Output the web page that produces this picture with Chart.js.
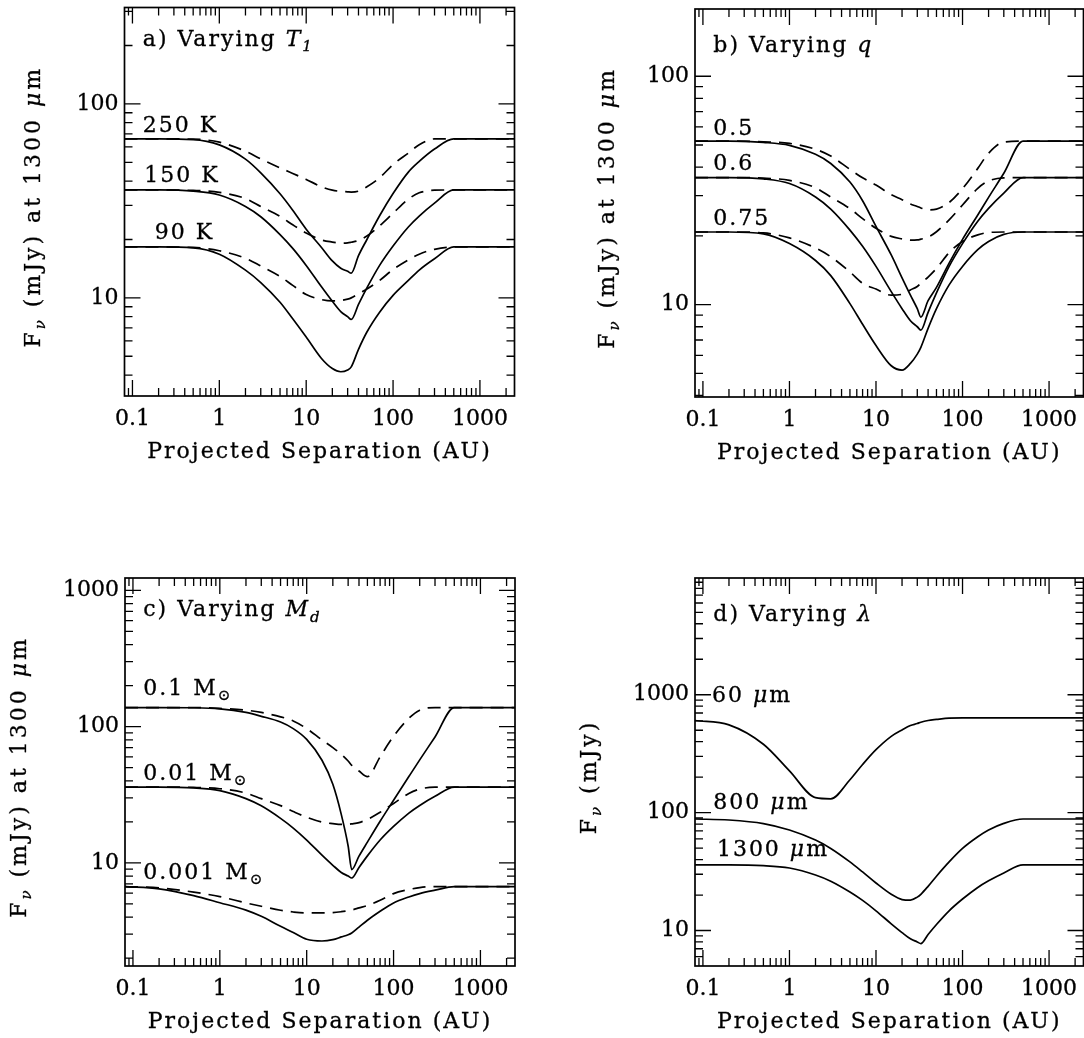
<!DOCTYPE html>
<html>
<head>
<meta charset="utf-8">
<title>Flux versus projected separation</title>
<script src="https://cdn.jsdelivr.net/npm/chart.js@4.4.1/dist/chart.umd.min.js"></script>
<style>
  html, body { margin: 0; padding: 0; background: #fff; }
  #page { position: relative; width: 1084px; height: 1038px; overflow: hidden; }
  .panel { position: absolute; width: 542px; height: 519px; }
</style>
</head>
<body>
<div id="page">
  <div class="panel" style="left:0;top:0"><canvas id="panelA"></canvas></div>
  <div class="panel" style="left:542px;top:0"><canvas id="panelB"></canvas></div>
  <div class="panel" style="left:0;top:519px"><canvas id="panelC"></canvas></div>
  <div class="panel" style="left:542px;top:519px"><canvas id="panelD"></canvas></div>
</div>
<script>
// projected separation (AU) at which every curve is sampled
const sepAU = [0.081, 0.2, 0.5, 1, 2, 3, 5, 7, 10, 15, 20, 25, 30, 33, 40, 50, 70, 100, 150, 200, 300, 500, 2500];

// reference model, repeated in every panel (150 K / 0.6 / 0.01 Msun / 1300 um)
const fiducialSolid  = [36, 36, 35.5, 33.9, 29.6, 26.2, 21.2, 18.0, 14.7, 11.4, 9.6, 8.5, 8.0, 7.74, 9.25, 11.25, 14.7, 18.5, 23.2, 26.4, 30.8, 36, 36];
const fiducialDashed = [36, 36, 35.8, 35.0, 32.5, 29.6, 26.3, 23.8, 21.6, 19.9, 19.4, 19.15, 19.2, 19.35, 19.75, 20.85, 23.5, 27.3, 32.3, 34.8, 35.9, 36, 36];

// a) varying T1
const t250Solid  = [66, 66, 65.5, 61.5, 51.9, 44.1, 34.4, 28.3, 22.6, 18.2, 15.5, 14.2, 13.7, 13.4, 16.5, 20.0, 26.5, 34.5, 44.5, 50.5, 58.5, 66, 66];
const t250Dashed = [66, 66, 65.8, 63.5, 57.0, 52.0, 46.8, 43.8, 40.8, 37.4, 35.9, 35.4, 35.2, 35.1, 35.5, 37.4, 41.6, 48.7, 55.8, 61.6, 66, 66, 66];
const t90Solid   = [18.3, 18.3, 18.1, 16.8, 13.9, 12.0, 9.5, 7.8, 6.28, 4.87, 4.32, 4.16, 4.25, 4.41, 5.43, 6.67, 8.44, 10.3, 12.3, 13.9, 15.9, 18.3, 18.3];
const t90Dashed  = [18.3, 18.3, 18.2, 17.5, 16.0, 14.6, 12.9, 11.6, 10.4, 9.8, 9.65, 9.69, 9.85, 10.0, 10.5, 11.1, 12.3, 14.0, 15.7, 16.8, 17.8, 18.3, 18.3];

// b) varying q
const q05Solid   = [52, 52, 51.3, 49.8, 45.5, 41.5, 34.4, 28.5, 22.0, 16.5, 13.1, 11.0, 9.6, 8.82, 10.4, 11.9, 15.2, 19.3, 24.7, 29.5, 37.6, 52, 52];
const q05Dashed  = [52, 52, 51.6, 50.8, 47.9, 44.7, 39.1, 35.9, 33.4, 30.3, 28.8, 27.6, 26.9, 26.5, 26.0, 26.2, 28.0, 32.2, 39.5, 46, 51.5, 52, 52];
const q075Solid  = [20.8, 20.8, 20.4, 18.5, 15.6, 13.4, 10.1, 8.2, 6.62, 5.4, 5.17, 5.53, 6.07, 6.5, 7.87, 9.6, 12.2, 14.7, 17.4, 18.9, 20.3, 20.8, 20.8];
const q075Dashed = [20.8, 20.8, 20.6, 19.6, 17.7, 16.2, 13.9, 12.4, 11.7, 11.0, 11.1, 11.6, 12.0, 12.4, 13.2, 14.4, 16.9, 18.9, 20.2, 20.7, 20.8, 20.8, 20.8];

// c) varying Md
const md01Solid    = [138, 138, 137.5, 135, 127, 119, 108, 96.7, 80.6, 56.6, 37.7, 22.7, 13.3, 8.93, 11.2, 14.2, 20.2, 28.8, 43, 57, 84, 138, 138];
const md01Dashed   = [138, 138, 138, 136, 132, 127, 118, 110, 96.7, 79.8, 70.1, 62.6, 55.9, 52.0, 47.2, 42.9, 60, 85, 115, 132, 138, 138, 138];
const md0001Solid  = [6.7, 6.45, 5.75, 5.1, 4.5, 4.05, 3.42, 3.08, 2.75, 2.67, 2.73, 2.86, 2.97, 3.06, 3.38, 3.79, 4.41, 5.08, 5.62, 5.95, 6.30, 6.7, 6.7];
const md0001Dashed = [6.7, 6.55, 6.1, 5.65, 5.08, 4.80, 4.49, 4.36, 4.29, 4.29, 4.31, 4.38, 4.46, 4.51, 4.67, 4.86, 5.31, 5.95, 6.37, 6.59, 6.7, 6.7, 6.7];

// d) varying lambda
const lam60  = [605, 555, 380, 226, 134, 131, 190, 256, 342, 444, 503, 548, 570, 585, 605, 617, 633, 637, 637, 637, 637, 637, 637];
const lam800 = [88.3, 86.6, 80.8, 71.2, 58.5, 49.7, 38.2, 31.4, 25.3, 20.3, 18.3, 18.1, 19.2, 20.3, 23.7, 28.9, 38.2, 49.7, 62.4, 71.2, 81.1, 88.3, 88.3];

// tick labels
const sepTicks = [0.1, 1, 10, 100, 1000];
const fluxTicksAB = [10, 100];
const fluxTicksCD = [10, 100, 1000];

const FONT = '"DejaVu Serif", "DejaVu Sans", serif';
const TXT = 22;
const DASH = [13, 8];

const yTitle1300 = [['F', ''], ['\u03bd', 'it sub'], [' (mJy) at 1300 ', ''], ['\u03bc', 'it'], ['m', '']];
const xTitle = [['Projected Separation (AU)', '']];

function fontFor(style, size) {
    const italic = style.includes('it');
    const px = style.includes('sub') ? Math.round(size * 0.68) : size;
    return (italic ? 'italic ' : '') + px + 'px ' + FONT;
}

function richWidth(ctx, parts, size) {
    let w = 0;
    for (const [text, style] of parts) {
        ctx.font = fontFor(style, size);
        w += ctx.measureText(text).width;
    }
    return w;
}

// text pieces side by side; a thin stroke gives the heavier plotter look
function drawRich(ctx, parts, x, y, size) {
    for (const [text, style] of parts) {
        ctx.font = fontFor(style, size);
        const dy = style.includes('sub') ? size * 0.32 : 0;
        ctx.fillText(text, x, y + dy);
        ctx.strokeText(text, x, y + dy);
        x += ctx.measureText(text).width;
    }
}

// 1..9 x 10^n inside the range, 1 x 10^n flagged as major
function logTicks(min, max) {
    const out = [];
    for (let e = Math.floor(Math.log10(min)); e <= Math.ceil(Math.log10(max)); e++) {
        for (let k = 1; k <= 9; k++) {
            const v = k * Math.pow(10, e);
            if (v > min * 1.0001 && v < max / 1.0001) out.push({ v, major: k === 1 });
        }
    }
    return out;
}

// box, inward ticks on all four sides and the panel texts
function framePlugin(p) {
    return {
        id: 'frame',
        afterDraw(chart) {
            const ctx = chart.ctx;
            const { left, right, top, bottom } = chart.chartArea;
            const xs = chart.scales.x, ys = chart.scales.y;
            ctx.save();
            ctx.strokeStyle = '#000';
            ctx.fillStyle = '#000';
            ctx.lineWidth = 1.3;
            ctx.beginPath();
            for (const t of logTicks(xs.min, xs.max)) {
                const px = xs.getPixelForValue(t.v);
                const len = t.major ? 16 : 8;
                ctx.moveTo(px, bottom); ctx.lineTo(px, bottom - len);
                ctx.moveTo(px, top); ctx.lineTo(px, top + len);
            }
            for (const t of logTicks(ys.min, ys.max)) {
                const py = ys.getPixelForValue(t.v);
                const len = t.major ? 16 : 8;
                ctx.moveTo(left, py); ctx.lineTo(left + len, py);
                ctx.moveTo(right, py); ctx.lineTo(right - len, py);
            }
            ctx.stroke();
            ctx.lineWidth = 1.7;
            ctx.strokeRect(left, top, right - left, bottom - top);

            ctx.lineWidth = 0.3;
            ctx.letterSpacing = '2px';
            ctx.textBaseline = 'middle';
            ctx.textAlign = 'left';

            // x title
            let w = richWidth(ctx, xTitle, TXT);
            drawRich(ctx, xTitle, (left + right) / 2 - w / 2, bottom + 56, TXT);

            // panel title and curve labels, anchored in data units
            for (const lab of p.labels) {
                drawRich(ctx, lab.parts, xs.getPixelForValue(lab.x), ys.getPixelForValue(lab.y), TXT);
            }

            // y title
            ctx.letterSpacing = '3px';
            ctx.translate(left - p.yTitleGap, (top + bottom) / 2 + 5);
            ctx.rotate(-Math.PI / 2);
            w = richWidth(ctx, p.yTitle, TXT);
            drawRich(ctx, p.yTitle, -w / 2, 0, TXT);
            ctx.restore();
        }
    };
}

function curve(values, dashed) {
    return {
        data: sepAU.map((x, i) => ({ x, y: values[i] })),
        borderColor: '#000',
        borderWidth: 1.7,
        borderDash: dashed ? DASH : [],
        pointRadius: 0,
        fill: false,
        cubicInterpolationMode: 'monotone'
    };
}

function makePanel(canvasId, p) {
    const W = 542, H = 519;
    const tickFont = { family: FONT, size: TXT };
    const tickStyle = { font: tickFont, color: '#000', textStrokeColor: '#000', textStrokeWidth: 0.3,
                        maxRotation: 0, autoSkip: false, callback: v => String(v) };
    return new Chart(document.getElementById(canvasId), {
        type: 'line',
        data: { datasets: p.curves },
        options: {
            responsive: true,
            maintainAspectRatio: false,
            animation: false,
            events: [],
            layout: { autoPadding: false, padding: { left: 0, top: p.box.top, right: W - p.box.right, bottom: 0 } },
            plugins: { legend: { display: false }, tooltip: { enabled: false } },
            scales: {
                x: {
                    type: 'logarithmic',
                    min: 0.081,
                    max: 2500,
                    grid: { display: false, drawTicks: false },
                    border: { display: false },
                    ticks: { ...tickStyle, padding: 10 },
                    afterBuildTicks: s => { s.ticks = sepTicks.map(v => ({ value: v })); },
                    afterFit: s => { s.height = H - p.box.bottom; s.paddingLeft = 0; s.paddingRight = 0; }
                },
                y: {
                    type: 'logarithmic',
                    min: p.yMin,
                    max: p.yMax,
                    grid: { display: false, drawTicks: false },
                    border: { display: false },
                    ticks: { ...tickStyle, padding: 6 },
                    afterBuildTicks: s => { s.ticks = p.yTicks.map(v => ({ value: v })); },
                    afterFit: s => { s.width = p.box.left; s.paddingTop = 0; s.paddingBottom = 0; }
                }
            }
        },
        plugins: [framePlugin(p)]
    });
}

makePanel('panelA', {
    box: { left: 124.5, top: 7.5, right: 514.5, bottom: 396 },
    yMin: 3.12, yMax: 314, yTicks: fluxTicksAB,
    yTitle: yTitle1300, yTitleGap: 90,
    curves: [curve(t250Solid), curve(t250Dashed, true), curve(fiducialSolid), curve(fiducialDashed, true),
             curve(t90Solid), curve(t90Dashed, true)],
    labels: [
        { x: 0.1315, y: 213, parts: [['a) Varying ', ''], ['T', 'it'], ['1', 'it sub']] },
        { x: 0.1315, y: 76.4, parts: [['250 K', '']] },
        { x: 0.137, y: 42.3, parts: [['150 K', '']] },
        { x: 0.181, y: 21.6, parts: [['90 K', '']] }
    ]
});

makePanel('panelB', {
    box: { left: 153, top: 9, right: 541.5, bottom: 397 },
    yMin: 3.94, yMax: 197, yTicks: fluxTicksAB,
    yTitle: yTitle1300, yTitleGap: 87,
    curves: [curve(q05Solid), curve(q05Dashed, true), curve(fiducialSolid), curve(fiducialDashed, true),
             curve(q075Solid), curve(q075Dashed, true)],
    labels: [
        { x: 0.132, y: 135, parts: [['b) Varying ', ''], ['q', 'it']] },
        { x: 0.132, y: 58.4, parts: [['0.5', '']] },
        { x: 0.132, y: 41.0, parts: [['0.6', '']] },
        { x: 0.132, y: 23.6, parts: [['0.75', '']] }
    ]
});

makePanel('panelC', {
    box: { left: 125, top: 59, right: 515, bottom: 447 },
    yMin: 1.75, yMax: 1232, yTicks: fluxTicksCD,
    yTitle: yTitle1300, yTitleGap: 105,
    curves: [curve(md01Solid), curve(md01Dashed, true), curve(fiducialSolid), curve(fiducialDashed, true),
             curve(md0001Solid), curve(md0001Dashed, true)],
    labels: [
        { x: 0.1315, y: 710, parts: [['c) Varying ', ''], ['M', 'it'], ['d', 'it sub']] },
        { x: 0.1315, y: 188, parts: [['0.1 M', ''], ['\u2299', 'sub']] },
        { x: 0.1315, y: 44.6, parts: [['0.01 M', ''], ['\u2299', 'sub']] },
        { x: 0.1315, y: 8.41, parts: [['0.001 M', ''], ['\u2299', 'sub']] }
    ]
});

makePanel('panelD', {
    box: { left: 153, top: 59, right: 541.5, bottom: 447 },
    yMin: 5.0, yMax: 9780, yTicks: fluxTicksCD,
    yTitle: [['F', ''], ['\u03bd', 'it sub'], [' (mJy)', '']], yTitleGap: 105,
    curves: [curve(lam60), curve(lam800), curve(fiducialSolid)],
    labels: [
        { x: 0.132, y: 4700, parts: [['d) Varying ', ''], ['\u03bb', 'it']] },
        { x: 0.127, y: 975, parts: [['60 ', ''], ['\u03bc', 'it'], ['m', '']] },
        { x: 0.132, y: 120, parts: [['800 ', ''], ['\u03bc', 'it'], ['m', '']] },
        { x: 0.145, y: 48, parts: [['1300 ', ''], ['\u03bc', 'it'], ['m', '']] }
    ]
});
</script>
</body>
</html>
